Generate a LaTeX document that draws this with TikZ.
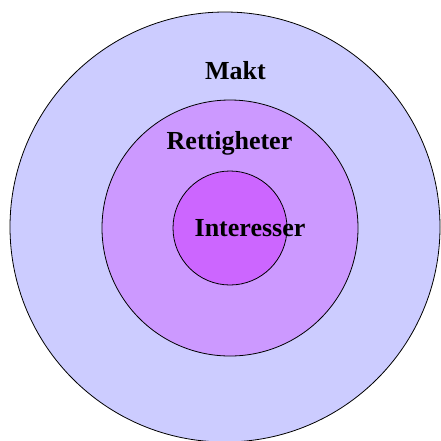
\documentclass[tikz,border=0pt]{standalone}
\usepackage{fontspec}
\setmainfont{Liberation Serif}
\definecolor{outerc}{HTML}{CCCCFF}
\definecolor{midc}{HTML}{CC99FF}
\definecolor{innerc}{HTML}{CC66FF}
\begin{document}
\begin{tikzpicture}[x=1pt,y=-1pt,
  ring/.style={circle,draw=black,line width=0.8pt,inner sep=0pt},
  lbl/.style={font=\fontsize{26}{30}\selectfont\bfseries,anchor=base,inner sep=0pt}]
\useasboundingbox (0,0) rectangle (441,440);
\begin{scope}
\clip (0,0) rectangle (441,440);
\node[ring,fill=outerc,minimum size=430pt] (outer) at (225,227) {};
\node[ring,fill=midc,minimum size=256pt] (mid) at (230,228) {};
\node[ring,fill=innerc,minimum size=114pt] (inner) at (230,228) {};
\end{scope}
\node[lbl] (makt) at (235.5,79) {Makt};
\node[lbl] (rett) at (229.5,149.3) {Rettigheter};
\node[lbl] (int) at (250,236.7) {Interesser};
\end{tikzpicture}
\end{document}
